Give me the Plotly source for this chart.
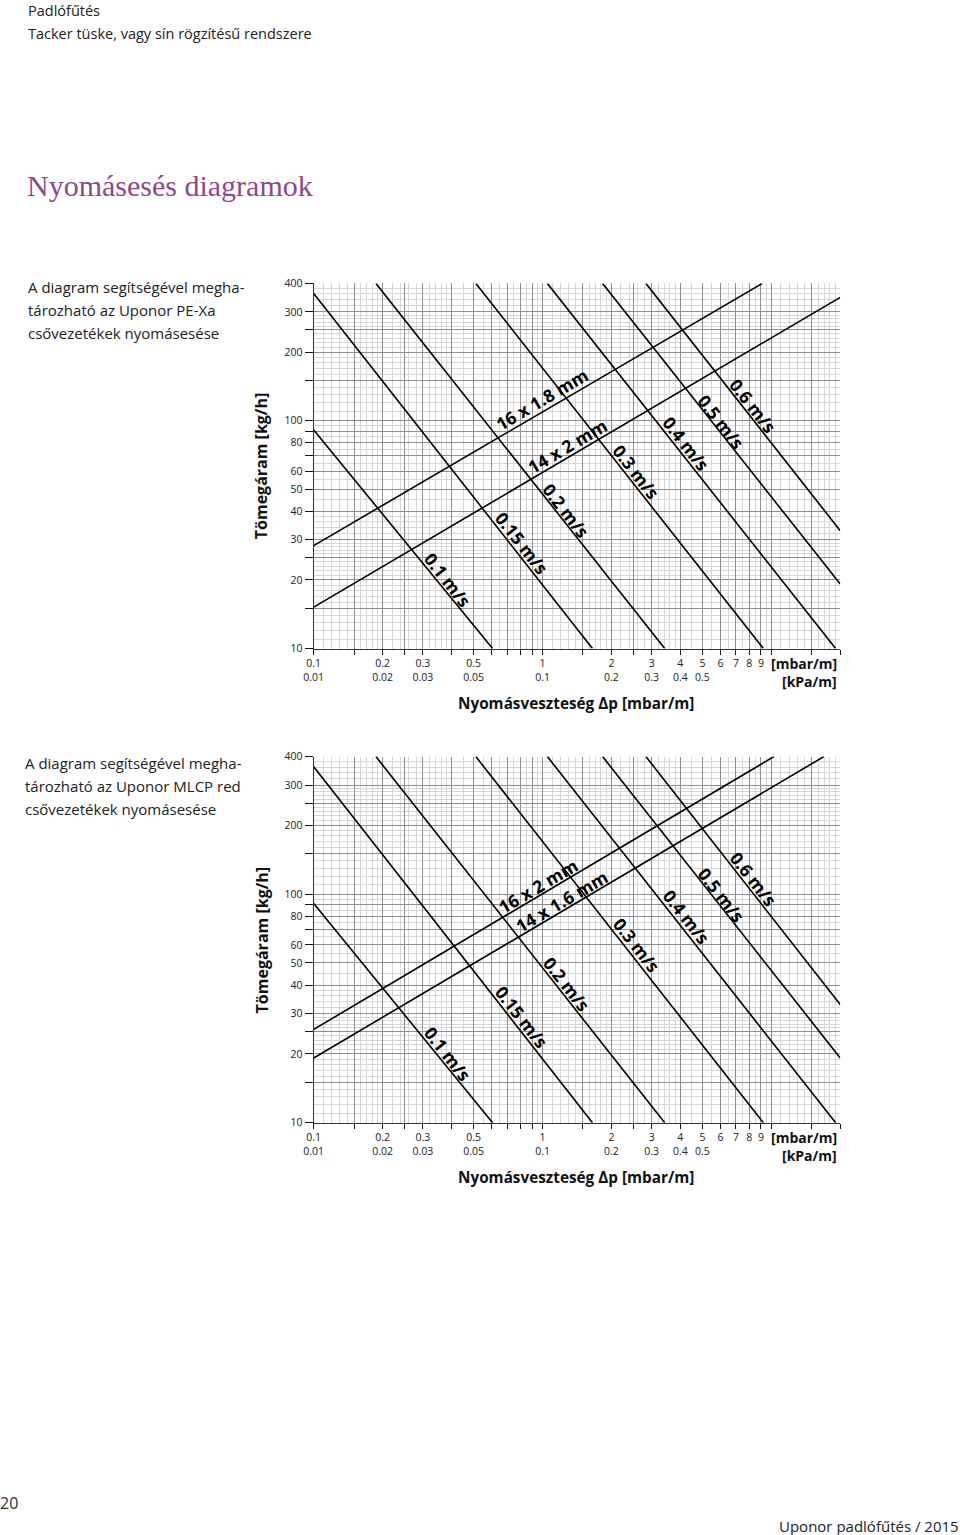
import math
import plotly.graph_objects as go

# ---------------- data ----------------
# velocity lines (m/s): start / end points  [mbar/m], [kg/h]
vel_labels = ["0.1 m/s", "0.15 m/s", "0.2 m/s", "0.3 m/s", "0.4 m/s", "0.5 m/s", "0.6 m/s"]
vel_x0 = [0.1, 0.1, 0.187, 0.511, 1.05, 1.83, 2.83]
vel_y0 = [91, 361, 400, 400, 400, 400, 400]
vel_x1 = [0.605, 1.653, 3.42, 9.23, 19.1, 20.0, 20.0]
vel_y1 = [10, 10, 10, 10, 10, 19.2, 32.9]
# label anchor positions (data units)
vel_lab_x = [0.386, 0.812, 1.277, 2.58, 4.27, 6.07, 8.37]
vel_lab_y = [19.9, 28.9, 40.3, 59.7, 79.3, 99.0, 116.4]

# pipe lines, chart 1 (PE-Xa)
pipe1_labels = ["16 x 1.8 mm", "14 x 2 mm"]
pipe1_x0 = [0.1, 0.1]
pipe1_y0 = [28.3, 15.2]
pipe1_x1 = [9.14, 20.0]
pipe1_y1 = [400, 347.5]
pipe1_lab_x = [0.993, 1.277]
pipe1_lab_y = [124.9, 77.7]

# pipe lines, chart 2 (MLCP red)
pipe2_labels = ["16 x 2 mm", "14 x 1.6 mm"]
pipe2_x0 = [0.1, 0.1]
pipe2_y0 = [25.6, 19.2]
pipe2_x1 = [10.26, 16.97]
pipe2_y1 = [400, 400]
pipe2_lab_x = [0.954, 1.214]
pipe2_lab_y = [108.4, 93.2]

# axis ticks
x_major = [0.1, 0.15, 0.2, 0.25, 0.3, 0.4, 0.5, 0.6, 0.7, 0.8, 0.9, 1, 1.5, 2, 2.5, 3,
           4, 5, 6, 7, 8, 9, 10, 15, 20]
x_ticktext = ["0.1<br>0.01", "", "0.2<br>0.02", "", "0.3<br>0.03", "", "0.5<br>0.05", "", "", "", "",
              "1<br>0.1", "", "2<br>0.2", "", "3<br>0.3", "4<br>0.4", "5<br>0.5", "6", "7", "8", "9",
              "", "", ""]
y_major = [10, 15, 20, 25, 30, 40, 50, 60, 70, 80, 90, 100, 150, 200, 250, 300, 400]
y_ticktext = ["10", "", "20", "", "30", "40", "50", "60", "", "80", "", "100", "", "200", "", "300", "400"]

x_minor = ([round(0.1 + 0.01 * i, 3) for i in range(1, 10)] + [0.22, 0.24, 0.26, 0.28, 0.32, 0.34, 0.36, 0.38]
           + [0.45, 0.55, 0.65, 0.75, 0.85, 0.95])
x_minor = x_minor + [round(v * 10, 3) for v in x_minor] + [round(v * 100, 3) for v in x_minor if v * 100 <= 20]
y_minor = ([11, 12, 13, 14, 16, 17, 18, 19, 21, 22, 23, 24, 26, 27, 28, 29, 32, 34, 36, 38, 45, 55, 65, 75, 85, 95])
y_minor = y_minor + [v * 10 for v in y_minor if v * 10 <= 400]

# ---------------- layout geometry (target pixels) ----------------
W, H = 960, 1535
PX_L, PX_R = 313, 840
P1_T, P1_B = 283, 648
P2_T, P2_B = 756, 1122
# compensation for the way the page is photographed (measured)
S, BX, BY = 0.9905, 9.0, 6.7
PAD = 3  # annotation inner padding


def px(x):
    return ((x - BX) / S) / W


def py(y):
    return 1 - ((y - BY) / S) / H


FONT = "Open Sans"
fig = go.Figure()


def add_lines(xa, ya, x0, y0, x1, y1):
    for a, b, c, d in zip(x0, y0, x1, y1):
        fig.add_trace(go.Scatter(x=[a, c], y=[b, d], mode="lines", xaxis=xa, yaxis=ya,
                                 line=dict(color="black", width=1.6), showlegend=False,
                                 hoverinfo="skip"))


add_lines("x", "y", vel_x0, vel_y0, vel_x1, vel_y1)
add_lines("x", "y", pipe1_x0, pipe1_y0, pipe1_x1, pipe1_y1)
add_lines("x2", "y2", vel_x0, vel_y0, vel_x1, vel_y1)
add_lines("x2", "y2", pipe2_x0, pipe2_y0, pipe2_x1, pipe2_y1)


def xaxis_cfg(top, bot, anchor):
    return dict(type="log", range=[-1, math.log10(20)], domain=[px(PX_L), px(PX_R)], anchor=anchor,
                tickmode="array", tickvals=x_major, ticktext=x_ticktext, ticks="outside", ticklen=5,
                tickcolor="#111", tickwidth=1, showgrid=True, gridcolor="#8e8e8e", gridwidth=1,
                minor=dict(tickvals=x_minor, showgrid=True, gridcolor="#d6d6d6", gridwidth=1, ticks=""),
                showline=True, linecolor="#333", linewidth=1, zeroline=False,
                tickfont=dict(family=FONT, size=10.5, color="#222"), tickangle=0)


def yaxis_cfg(top, bot, anchor):
    return dict(type="log", range=[1, math.log10(400)], domain=[py(bot), py(top)], anchor=anchor,
                tickmode="array", tickvals=y_major, ticktext=y_ticktext, ticks="outside", ticklen=8,
                tickcolor="#111", tickwidth=1, showgrid=True, gridcolor="#8e8e8e", gridwidth=1,
                minor=dict(tickvals=y_minor, showgrid=True, gridcolor="#d6d6d6", gridwidth=1, ticks=""),
                showline=True, linecolor="#333", linewidth=1, zeroline=False,
                tickfont=dict(family=FONT, size=10.5, color="#222"))


annotations = []


def txt(text, x, y, size=15, color="#222", xanchor="left", family=FONT, angle=0):
    if xanchor == "left":
        x -= PAD
    elif xanchor == "right":
        x += PAD
    annotations.append(dict(text=text, x=px(x), y=py(y), xref="paper", yref="paper", showarrow=False,
                            xanchor=xanchor, yanchor="middle", textangle=angle,
                            font=dict(family=family, size=size, color=color)))


def line_labels(xr, yr, labels, lx, ly, angle):
    for t, a, b in zip(labels, lx, ly):
        annotations.append(dict(text="<b>" + t + "</b>", x=math.log10(a), y=math.log10(b), xref=xr, yref=yr,
                                showarrow=False, textangle=angle, xanchor="center", yanchor="middle",
                                font=dict(family=FONT, size=17.5, color="black")))


line_labels("x", "y", vel_labels, vel_lab_x, vel_lab_y, 52)
line_labels("x", "y", pipe1_labels, pipe1_lab_x, pipe1_lab_y, -30.5)
line_labels("x2", "y2", vel_labels, vel_lab_x, vel_lab_y, 52)
line_labels("x2", "y2", pipe2_labels, pipe2_lab_x, pipe2_lab_y, -30.5)

# page texts
txt("Padlófűtés", 28, 10, 14.5)
txt("Tacker tüske, vagy sín rögzítésű rendszere", 28, 33, 14.5)
txt("Nyomásesés diagramok", 27, 185, 30, color="#8c4a8a", family="Liberation Serif")

desc1 = ["A diagram segítségével megha-", "tározható az Uponor PE-Xa", "csővezetékek nyomásesése"]
desc2 = ["A diagram segítségével megha-", "tározható az Uponor MLCP red", "csővezetékek nyomásesése"]
for i, t in enumerate(desc1):
    txt(t, 28, 287 + 23 * i, 15)
for i, t in enumerate(desc2):
    txt(t, 25, 762 + 23 * i, 15)

for off in (0, P2_B - P1_B):
    txt("<b>Tömegáram [kg/h]</b>", 261, 465 + off, 16, color="#111", xanchor="center", angle=-90)
    txt("<b>Nyomásveszteség Δp [mbar/m]</b>", 576, 702 + off, 15.3, color="#111", xanchor="center")
    txt("<b>[mbar/m]</b>", 836, 663 + off, 14, color="#111", xanchor="right")
    txt("<b>[kPa/m]</b>", 836, 681 + off, 14, color="#111", xanchor="right")

txt("20", 0, 1502, 16, color="#333")
txt("Uponor padlófűtés / 2015", 958, 1525, 15, color="#222", xanchor="right")

fig.update_layout(
    width=W, height=H, autosize=False,
    margin=dict(l=0, r=0, t=0, b=0),
    paper_bgcolor="white", plot_bgcolor="white",
    xaxis=xaxis_cfg(P1_T, P1_B, "y"), yaxis=yaxis_cfg(P1_T, P1_B, "x"),
    xaxis2=xaxis_cfg(P2_T, P2_B, "y2"), yaxis2=yaxis_cfg(P2_T, P2_B, "x2"),
    annotations=annotations,
    showlegend=False,
)

fig.write_html("out.html", config={"displayModeBar": False},
               post_script="document.body.style.margin='0';document.body.style.padding='0';")
